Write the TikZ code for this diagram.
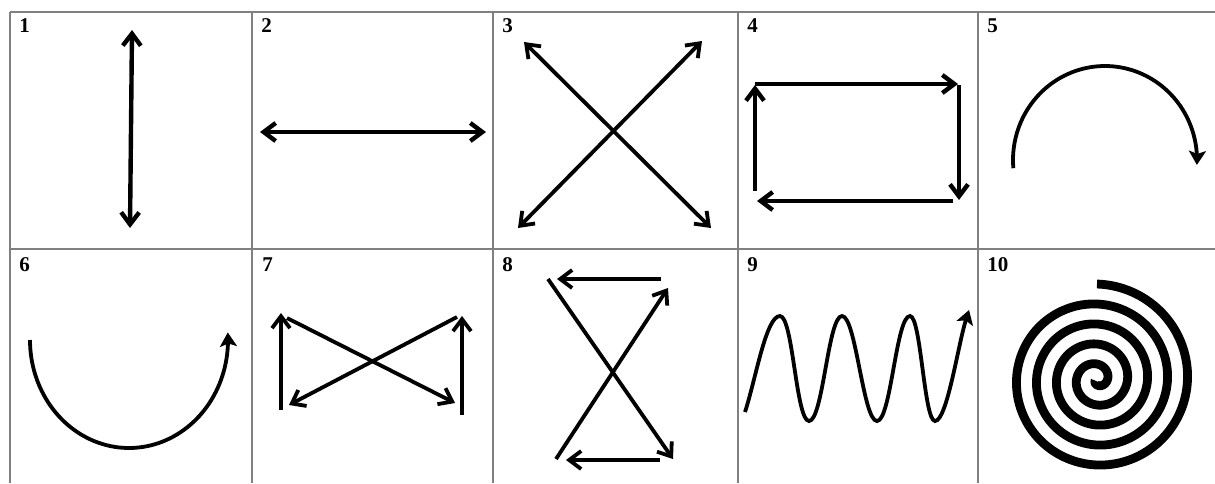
\documentclass[tikz,border=0pt]{standalone}
\usepackage{fontspec}
\setmainfont{Liberation Serif}
\usetikzlibrary{arrows.meta}
\tikzset{
  barb/.tip={Straight Barb[length=6pt,width=9pt]},
  stl/.tip={Stealth[length=7pt,width=8.5pt,inset=1.5pt]},
}
\begin{document}
\begin{tikzpicture}[x=0.5pt,y=-0.5pt,
  gridline/.style={draw=black!50, line width=0.7pt},
  lbl/.style={anchor=base west, inner sep=0pt, font=\bfseries\fontsize{10.5}{12}\selectfont},
  dbl/.style={line width=2.2pt, barb-barb},
  sgl/.style={line width=2.2pt, -barb},
  thin dbl/.style={line width=1.9pt, barb-barb},
  thin sgl/.style={line width=1.9pt, -barb},
  crv/.style={line width=1.9pt, -stl},
]
\fill[white] (0,0) rectangle (1215,483);
\useasboundingbox (0,0) rectangle (1215,483);

% grid
\draw[gridline] (10,12) -- (1215,12);
\draw[gridline] (10,249) -- (1215,249);
\foreach \gx in {10,252,493,738,978}{
  \draw[gridline] (\gx,12) -- (\gx,483);
}

% labels
\node[lbl] (l1) at (19,32) {1};
\node[lbl] (l2) at (261,32) {2};
\node[lbl] (l3) at (502,32) {3};
\node[lbl] (l4) at (747,32) {4};
\node[lbl] (l5) at (987,32) {5};
\node[lbl] (l6) at (19,271) {6};
\node[lbl] (l7) at (262,271) {7};
\node[lbl] (l8) at (502,271) {8};
\node[lbl] (l9) at (747,271) {9};
\node[lbl] (l10) at (987,271) {10};

% 1
\draw[dbl] (132,30) -- (130,228);
% 2
\draw[dbl] (260,132) -- (486,132);
% 3
\draw[thin dbl] (524,42) -- (711,228);
\draw[thin dbl] (702,41) -- (518,228);
% 4
\draw[sgl] (755,84) -- (958,84);
\draw[sgl] (959,85) -- (959,200);
\draw[sgl] (953,201) -- (757,201);
\draw[sgl] (755,191) -- (755,85);
% 5
\draw[crv] plot[domain=0:188, samples=80, smooth, variable=\t]
  ({1105 + 92*cos(185-\t)}, {160 - 94*sin(185-\t)});
% 6
\draw[crv] plot[domain=180:364, samples=80, smooth, variable=\t]
  ({129 + 99*cos(\t)}, {340 - 108*sin(\t)});
% 7
\draw[thin sgl] (281,410) -- (281,313);
\draw[thin sgl] (462,415) -- (462,316);
\draw[thin sgl] (287,318) -- (455,403);
\draw[thin sgl] (457,317) -- (289,405);
% 8
\draw[thin sgl] (661,279) -- (557,279);
\draw[thin sgl] (548,279) -- (673,459);
\draw[thin sgl] (556,459) -- (668,288);
\draw[thin sgl] (660,460) -- (566,460);
% 9
\draw[crv] (745,412) .. controls (756,378) and (766,316) .. (780,316)
  .. controls (793,316) and (796,421) .. (809,421)
  .. controls (823,421) and (828,316) .. (842,316)
  .. controls (856,316) and (863,421) .. (877,421)
  .. controls (891,421) and (896,316) .. (910,316)
  .. controls (921,316) and (924,421) .. (935,421)
  .. controls (947,421) and (958,345) .. (969,310);
% 10
\draw[line width=4.4pt, line cap=butt] plot[domain=-150:1530, samples=420, smooth, variable=\t]
  ({1097 + (10.5 + \t/18)*cos(\t)}, {379.5 - (10.5 + \t/18)*sin(\t)});
\end{tikzpicture}
\end{document}
